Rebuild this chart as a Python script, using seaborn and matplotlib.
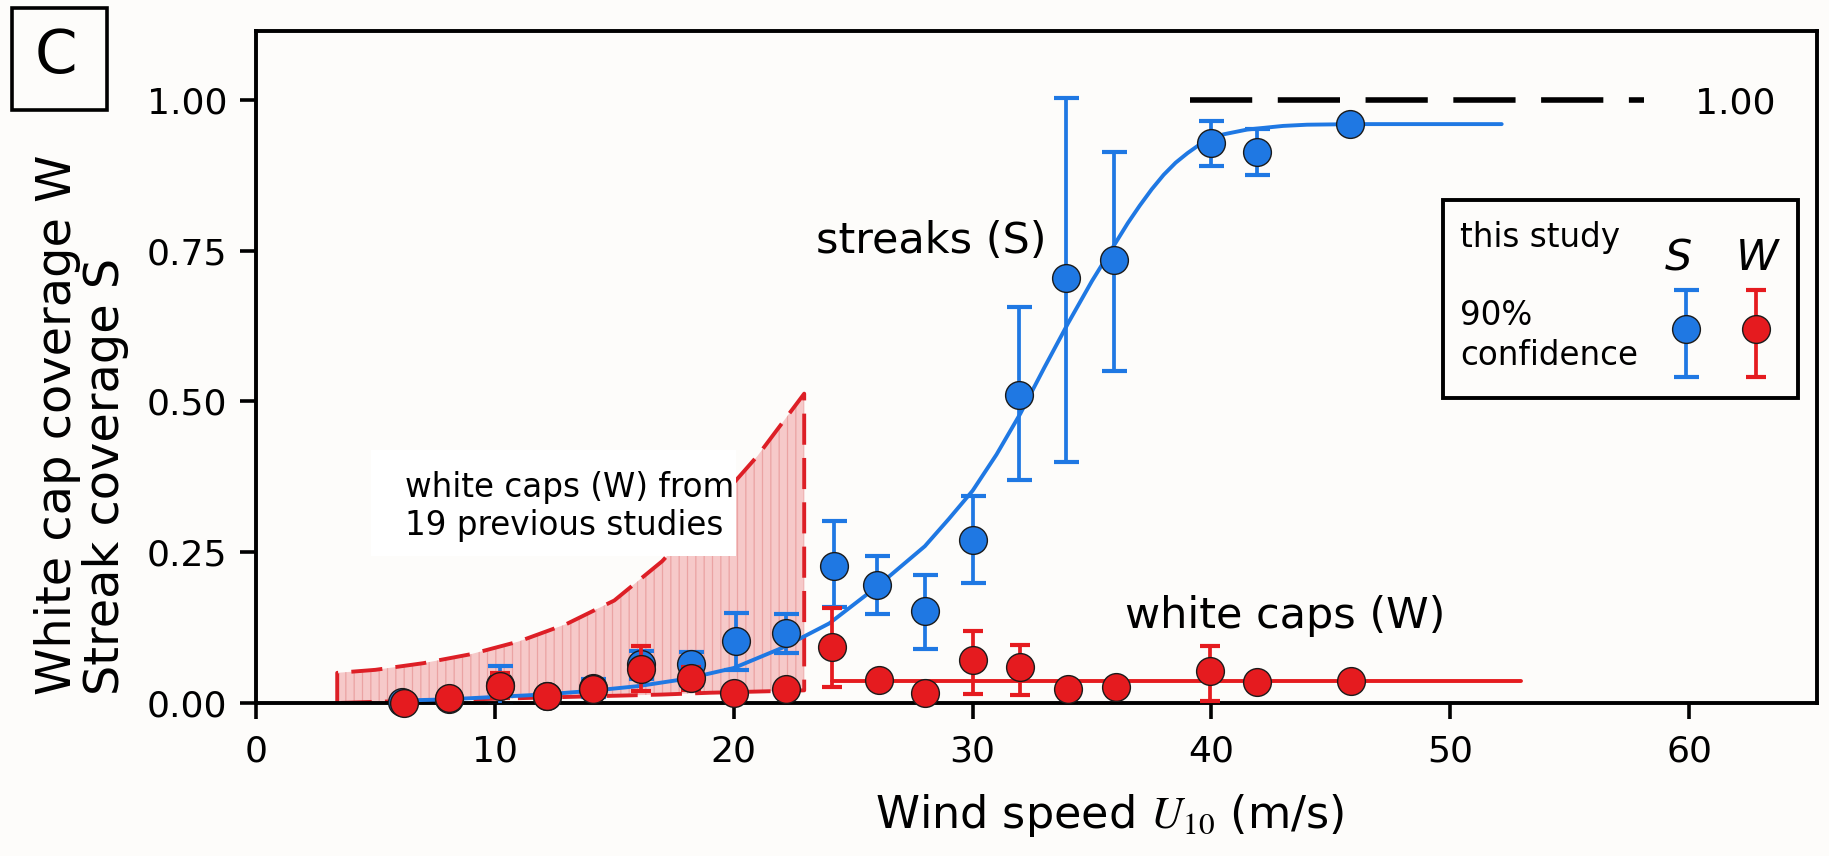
import numpy as np
import pandas as pd
import matplotlib
matplotlib.use("Agg")
import matplotlib.pyplot as plt
from matplotlib.patches import Rectangle
import seaborn as sns

# ---------------------------------------------------------------------------
# Data
# ---------------------------------------------------------------------------
# Streak coverage S (this study): bin centre, value, 90% confidence bounds
s_speed = [6.1, 8.1, 10.2, 12.2, 14.1, 16.1, 18.2, 20.1, 22.2, 24.2, 26.0,
           28.0, 30.0, 31.95, 33.9, 35.9, 40.0, 41.9, 45.8]
s_value = [0.002, 0.006, 0.030, 0.012, 0.025, 0.065, 0.064, 0.103, 0.116,
           0.228, 0.196, 0.153, 0.271, 0.511, 0.705, 0.734, 0.928, 0.914, 0.960]
s_low = [0.002, 0.006, -0.005, 0.012, 0.010, 0.040, 0.030, 0.055, 0.083,
         0.159, 0.148, 0.089, 0.199, 0.369, 0.400, 0.551, 0.890, 0.875, 0.960]
s_high = [0.002, 0.006, 0.062, 0.012, 0.040, 0.087, 0.084, 0.150, 0.148,
          0.301, 0.243, 0.213, 0.344, 0.657, 1.003, 0.914, 0.965, 0.952, 0.960]

# White cap coverage W (this study)
w_speed = [6.2, 8.1, 10.2, 12.2, 14.1, 16.1, 18.2, 20.0, 22.2, 24.1, 26.1,
           28.0, 30.0, 32.0, 34.0, 36.0, 39.95, 41.9, 45.85]
w_value = [0.000, 0.009, 0.028, 0.012, 0.023, 0.056, 0.042, 0.017, 0.023,
           0.093, 0.038, 0.016, 0.072, 0.059, 0.024, 0.027, 0.053, 0.034, 0.037]
w_low = [0.000, 0.009, 0.009, 0.012, 0.023, 0.020, 0.022, 0.017, 0.023,
         0.026, 0.038, 0.016, 0.015, 0.013, 0.024, 0.027, 0.004, 0.034, 0.037]
w_high = [0.000, 0.009, 0.050, 0.012, 0.023, 0.094, 0.060, 0.017, 0.023,
          0.158, 0.038, 0.016, 0.119, 0.097, 0.024, 0.027, 0.094, 0.034, 0.037]

# Fitted streak curve S(U10)
s_fit_speed = [6, 8, 10, 12, 14, 16, 18, 20, 22, 24, 26, 28, 29, 30, 31, 32,
               33, 34, 35, 36, 36.5, 37, 37.5, 38, 38.5, 39, 39.5, 40, 40.5,
               41, 41.5, 42, 43, 44, 46, 48, 50, 52.15]
s_fit_value = [0.004, 0.006, 0.010, 0.014, 0.020, 0.028, 0.040, 0.058, 0.091,
               0.132, 0.193, 0.260, 0.305, 0.352, 0.412, 0.480, 0.556, 0.630,
               0.700, 0.764, 0.796, 0.825, 0.852, 0.876, 0.896, 0.912, 0.926,
               0.936, 0.943, 0.947, 0.951, 0.953, 0.957, 0.959, 0.960, 0.960,
               0.960, 0.960]

# Mean white cap coverage above 24 m/s
w_fit_speed = [24.1, 52.96]
w_fit_value = [0.0366, 0.0366]

# Range of white cap coverage from 19 previous studies
prev_speed = [3.4, 5.0, 7.0, 9.0, 11.0, 13.0, 15.0, 17.0, 19.0, 21.0, 22.95]
prev_upper = [0.050, 0.055, 0.066, 0.081, 0.102, 0.131, 0.170, 0.235, 0.320,
              0.410, 0.513]
prev_lower = [0.000, 0.002, 0.004, 0.006, 0.008, 0.010, 0.012, 0.014, 0.017,
              0.019, 0.021]

# Full coverage reference level
full_speed = [39.1, 58.1]
full_value = [1.0, 1.0]

x_ticks = [0, 10, 20, 30, 40, 50, 60]
y_ticks = [0.00, 0.25, 0.50, 0.75, 1.00]

# ---------------------------------------------------------------------------
# Style
# ---------------------------------------------------------------------------
BG = "#fdfcfa"
BLUE = "#1f78e3"
RED = "#e51b1f"
EDGE = "#1a1a1a"
MS = 400          # marker area (pt^2)

sns.set_theme(style="ticks")
plt.rcParams.update({
    "font.family": ["DejaVu Sans"],
    "mathtext.fontset": "stix",
    "text.color": "black",
    "axes.labelcolor": "black",
    "xtick.color": "black",
    "ytick.color": "black",
    "axes.linewidth": 2.8,
    "axes.edgecolor": "black",
    "hatch.linewidth": 0.9,
})

W_PX, H_PX = 1829, 856
fig = plt.figure(figsize=(W_PX / 100, H_PX / 100), dpi=100, facecolor=BG)
ax = fig.add_axes([256 / W_PX, 1 - 703 / H_PX, (1817 - 256) / W_PX, (703 - 31) / H_PX])
ax.set_facecolor(BG)
ax.set_xlim(0, 65.35)
ax.set_ylim(0, 1.1144)

# Envelope of earlier white cap measurements
ax.fill_between(prev_speed, prev_lower, prev_upper, facecolor="#f6c9c9",
                edgecolor="#eba3a3", hatch="||", linewidth=0, zorder=1)
outline_x = [prev_speed[0]] + prev_speed + [prev_speed[-1]] + prev_speed[::-1]
outline_y = [prev_lower[0]] + prev_upper + [prev_lower[-1]] + prev_lower[::-1]
ax.plot(outline_x, outline_y, color="#dd1f26", lw=2.8,
        linestyle=(0, (8.0, 3.4)), zorder=2)

# Label box for the envelope
ax.add_patch(Rectangle((4.81, 0.243), 20.10 - 4.81, 0.4196 - 0.243,
                       facecolor="white", edgecolor="none", zorder=3))
ax.text(6.24, 0.342, "white caps (W) from", fontsize=23.5, ha="left",
        va="baseline", zorder=4)
ax.text(6.24, 0.2786, "19 previous studies", fontsize=23.5, ha="left",
        va="baseline", zorder=4)

# Full coverage level
ax.plot(full_speed, full_value, color="black", lw=4.0,
        linestyle=(0, (11.2, 4.6)), zorder=2)
ax.text(60.26, 0.978, "1.00", fontsize=26, ha="left", va="baseline")

# Fitted curves
sns.lineplot(x=s_fit_speed, y=s_fit_value, color=BLUE, lw=2.8, ax=ax,
             zorder=5, legend=False)
sns.lineplot(x=w_fit_speed, y=w_fit_value, color=RED, lw=2.8, ax=ax,
             zorder=5, legend=False)

# Observations with 90% confidence intervals
s_df = pd.DataFrame({"u": s_speed, "v": s_value, "lo": s_low, "hi": s_high})
w_df = pd.DataFrame({"u": w_speed, "v": w_value, "lo": w_low, "hi": w_high})

s_err = s_df[s_df.hi > s_df.lo]
ax.errorbar(s_err.u, s_err.v, yerr=[s_err.v - s_err.lo, s_err.hi - s_err.v],
            fmt="none", ecolor=BLUE, elinewidth=2.7, capsize=9, capthick=3.0,
            zorder=6)
sns.scatterplot(data=s_df, x="u", y="v", s=MS, color=BLUE, edgecolor=EDGE,
                linewidth=1.0, ax=ax, zorder=7, clip_on=False, legend=False)

w_err = w_df[w_df.hi > w_df.lo]
ax.errorbar(w_err.u, w_err.v, yerr=[w_err.v - w_err.lo, w_err.hi - w_err.v],
            fmt="none", ecolor=RED, elinewidth=2.7, capsize=7.5, capthick=3.0,
            zorder=8)
sns.scatterplot(data=w_df, x="u", y="v", s=MS, color=RED, edgecolor=EDGE,
                linewidth=1.0, ax=ax, zorder=9, clip_on=False, legend=False)

# Series annotations
ax.text(33.11, 0.746, "streaks (S)", fontsize=31, ha="right", va="baseline")
ax.text(43.07, 0.124, "white caps (W)", fontsize=31, ha="center", va="baseline")

# Legend panel
tA = ax.transAxes
ax.add_patch(Rectangle((0.7605, 0.4539), 0.9879 - 0.7605, 0.7485 - 0.4539,
                       transform=tA, facecolor=BG, edgecolor="black", lw=2.8,
                       zorder=10))
ax.text(0.7714, 0.679, "this study", transform=tA, fontsize=23.5,
        ha="left", va="baseline", zorder=11)
ax.text(0.7714, 0.5625, "90%", transform=tA, fontsize=23.5,
        ha="left", va="baseline", zorder=11)
ax.text(0.7714, 0.503, "confidence", transform=tA, fontsize=23.5,
        ha="left", va="baseline", zorder=11)
ax.text(0.9112, 0.6443, "S", transform=tA, fontsize=31, style="italic",
        ha="center", va="baseline", zorder=11)
ax.text(0.9617, 0.6443, "W", transform=tA, fontsize=31, style="italic",
        ha="center", va="baseline", zorder=11)


def axes_to_data(fx, fy):
    x0, x1 = ax.get_xlim()
    y0, y1 = ax.get_ylim()
    return x0 + fx * (x1 - x0), y0 + fy * (y1 - y0)


for fx, col, cap in [(0.9163, BLUE, 9), (0.9610, RED, 7.5)]:
    kx, ky = axes_to_data(fx, 0.5561)
    _, ktop = axes_to_data(fx, 0.6146)
    _, kbot = axes_to_data(fx, 0.4856)
    ax.errorbar([kx], [ky], yerr=[[ky - kbot], [ktop - ky]], fmt="none",
                ecolor=col, elinewidth=2.7, capsize=cap, capthick=3.0,
                zorder=11)
    ax.scatter([kx], [ky], s=MS, color=col, edgecolor=EDGE, linewidth=1.0,
               zorder=12)

# Axes, ticks
ax.set_xticks(x_ticks)
ax.set_yticks(y_ticks)
ax.set_xticklabels([str(t) for t in x_ticks])
ax.set_yticklabels([f"{t:.2f}" for t in y_ticks])
ax.tick_params(axis="both", direction="out", length=11.5, width=2.6,
               labelsize=26, colors="black")
ax.tick_params(axis="x", pad=11)
ax.tick_params(axis="y", pad=9)
for side in ["top", "right", "left", "bottom"]:
    ax.spines[side].set_visible(True)
    ax.spines[side].set_linewidth(2.8)
    ax.spines[side].set_color("black")
ax.grid(False)
ax.set_xlabel("")
ax.set_ylabel("")

# Axis titles
fig.text(71 / W_PX, 1 - 695 / H_PX, "White cap coverage W", fontsize=34.5,
         rotation=90, rotation_mode="anchor", ha="left", va="baseline")
fig.text(119 / W_PX, 1 - 695 / H_PX, "Streak coverage S", fontsize=34.5,
         rotation=90, rotation_mode="anchor", ha="left", va="baseline")
fig.text(875 / W_PX, 1 - 828 / H_PX, r"Wind speed $U_{10}$ (m/s)", fontsize=32,
         ha="left", va="baseline")

# Panel tag
fig.add_artist(Rectangle((11.5 / W_PX, 1 - 110 / H_PX), 95.7 / W_PX, 101.7 / H_PX,
                         transform=fig.transFigure, facecolor="none",
                         edgecolor="black", lw=2.6))
fig.text(55.5 / W_PX, 1 - 56 / H_PX, "C", fontsize=44, ha="center", va="center")

fig.savefig("out.png", dpi=100, facecolor=BG)
